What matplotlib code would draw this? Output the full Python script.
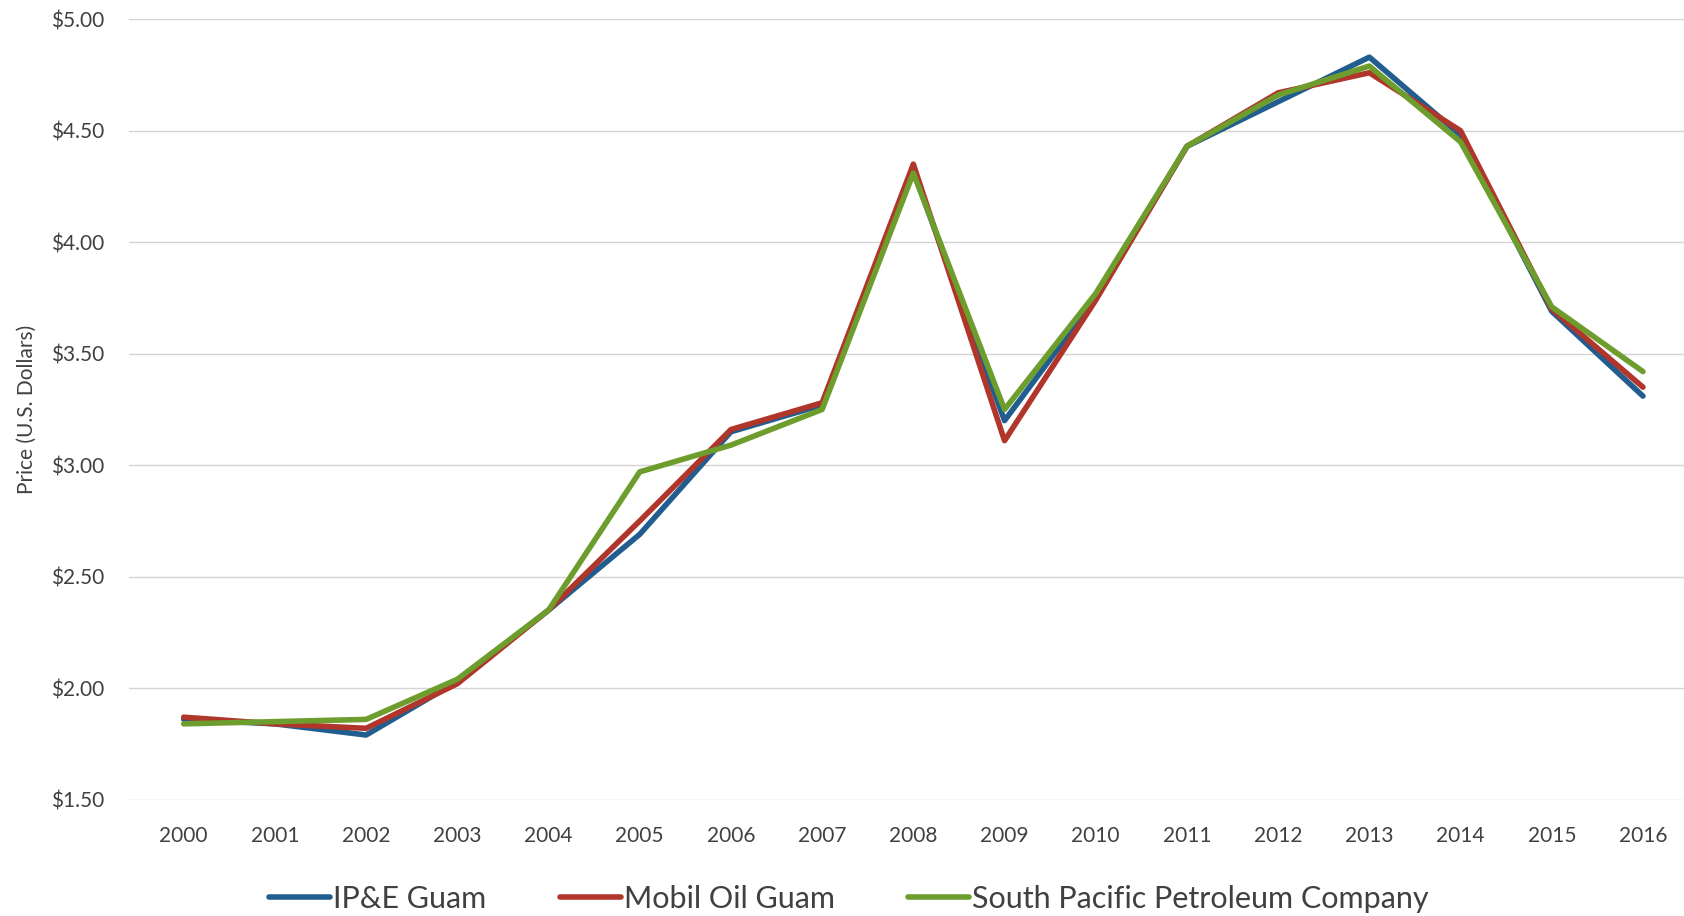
import matplotlib.pyplot as plt
import numpy as np

# 数据：关岛汽油年均价格
years = ['2000', '2001', '2002', '2003', '2004', '2005', '2006', '2007', '2008',
         '2009', '2010', '2011', '2012', '2013', '2014', '2015', '2016']
ipe_guam = [1.86, 1.84, 1.79, 2.03, 2.35, 2.69, 3.15, 3.27, 4.32,
            3.20, 3.75, 4.43, 4.63, 4.83, 4.48, 3.69, 3.31]
mobil_guam = [1.87, 1.84, 1.82, 2.02, 2.35, 2.75, 3.16, 3.28, 4.35,
              3.11, 3.74, 4.43, 4.67, 4.76, 4.50, 3.70, 3.35]
spp_company = [1.84, 1.85, 1.86, 2.04, 2.35, 2.97, 3.09, 3.25, 4.31,
               3.25, 3.77, 4.43, 4.66, 4.79, 4.45, 3.71, 3.42]
y_ticks = [1.5, 2.0, 2.5, 3.0, 3.5, 4.0, 4.5, 5.0]

plt.rcParams['font.family'] = ['Lato', 'DejaVu Sans']

fig = plt.figure(figsize=(16.84, 9.16), dpi=100)
ax = fig.add_axes([0.0766, 0.127, 0.9234, 0.852])

x = np.arange(len(years))
ax.plot(x, ipe_guam, color='#215d8f', lw=4, label='IP&E Guam', solid_capstyle='round')
ax.plot(x, mobil_guam, color='#b0352b', lw=4, label='Mobil Oil Guam', solid_capstyle='round')
ax.plot(x, spp_company, color='#6d9d2c', lw=4, label='South Pacific Petroleum Company',
        solid_capstyle='round')

ax.set_xlim(-0.6, 16.45)
ax.set_ylim(1.5, 5.0)
ax.set_xticks(x)
ax.set_xticklabels(years)
ax.set_yticks(y_ticks)
ax.set_yticklabels(['$%.2f' % v for v in y_ticks])
ax.tick_params(length=0, labelsize=15, colors='#404040')
ax.tick_params(axis='x', pad=19)
ax.tick_params(axis='y', pad=18)
ax.grid(axis='y', color='#d4d4d4', lw=1)
ax.set_axisbelow(True)
for s in ax.spines.values():
    s.set_visible(False)

ax.set_ylabel('Price (U.S. Dollars)', fontsize=15, color='#404040', labelpad=10)

ax.legend(loc='upper center', bbox_to_anchor=(0.463, -0.074), ncol=3, frameon=False,
          fontsize=22, handlelength=2.0, handletextpad=0.1, columnspacing=2.4,
          labelcolor='#404040')

fig.savefig('out.png', dpi=100, facecolor='white')
